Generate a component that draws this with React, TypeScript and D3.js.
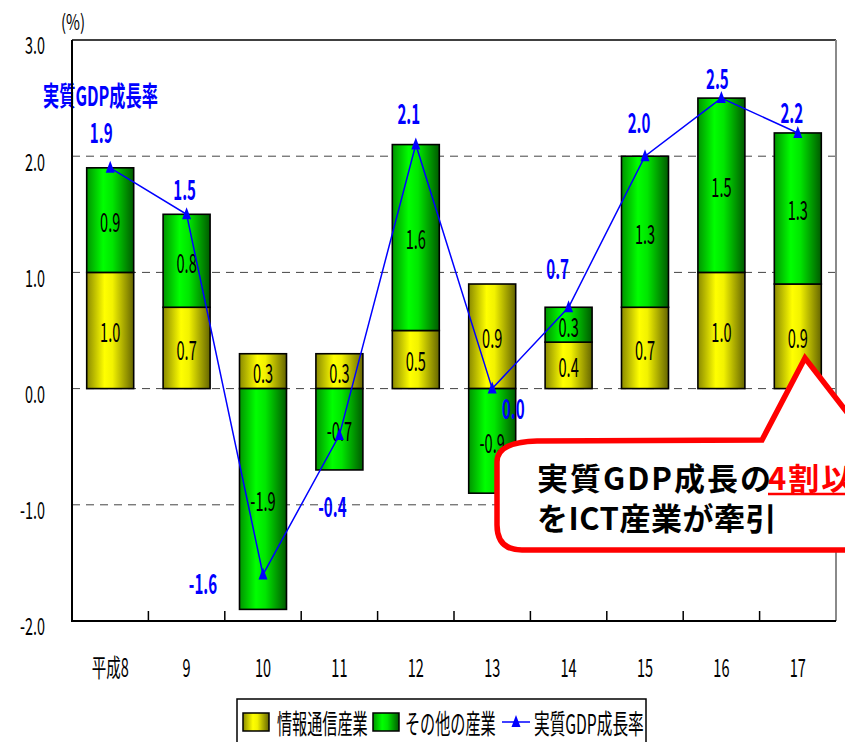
import React from "react";
import * as d3 from "d3";

// Contribution of each sector to real GDP growth (percentage points), fiscal years Heisei 8–17
const categories = ["平成8", "9", "10", "11", "12", "13", "14", "15", "16", "17"];
const ictContribution = [1.0, 0.7, 0.3, 0.3, 0.5, 0.9, 0.4, 0.7, 1.0, 0.9];
const otherContribution = [0.9, 0.8, -1.9, -0.7, 1.6, -0.9, 0.3, 1.3, 1.5, 1.3];
const gdpGrowth = [1.9, 1.5, -1.6, -0.4, 2.1, 0.0, 0.7, 2.0, 2.5, 2.2];
const yTicks = [3.0, 2.0, 1.0, 0.0, -1.0, -2.0];
const gridValues = [2.0, 1.0, 0.0, -1.0];
const seriesNames = ["情報通信産業", "その他の産業", "実質GDP成長率"];

// Hand-placed offsets of the growth-rate labels relative to their points
const gdpLabelOffsets: [number, number][] = [
  [-9, -37], [-2, -26], [-60, 8], [-7, 70], [-7, -32],
  [21, 19], [-11, -40], [-6, -35], [-4, -21], [-6, -22],
];

const W = 845;
const H = 742;
const plot = { left: 72, right: 836, top: 40, bottom: 621 };
const FONT = "'Noto Sans CJK JP', 'Noto Sans', sans-serif";

type CTextProps = {
  x: number;
  y: number;
  size: number;
  sx?: number;
  fill?: string;
  anchor?: "start" | "middle" | "end";
  weight?: number;
  children: React.ReactNode;
};

// Condensed text: horizontal squeeze around the anchor point
function CText({ x, y, size, sx = 0.6, fill = "#000", anchor = "middle", weight = 400, children }: CTextProps) {
  return (
    <text
      transform={`translate(${x},${y}) scale(${sx},1)`}
      textAnchor={anchor}
      dominantBaseline="central"
      fontSize={size}
      fontWeight={weight}
      fill={fill}
      fontFamily={FONT}
    >
      {children}
    </text>
  );
}

const fmt = d3.format(".1f");
const fmtSigned = (v: number) => (v < 0 ? "-" + fmt(-v) : fmt(v));

export default function App() {
  const x = d3
    .scaleBand<string>()
    .domain(categories)
    .range([plot.left, plot.right])
    .paddingInner(0.385)
    .paddingOuter(0.1925);
  const y = d3.scaleLinear().domain([-2, 3]).range([plot.bottom, plot.top]);
  const step = x.step();

  const rows = categories.map((c, i) => ({ cat: c, ict: ictContribution[i], other: otherContribution[i] }));
  const stacked = d3
    .stack<any>()
    .keys(["ict", "other"])
    .offset(d3.stackOffsetDiverging)(rows);

  const cx = (c: string) => (x(c) ?? 0) + x.bandwidth() / 2;

  const linePath = d3
    .line<number>()
    .x((_, i) => cx(categories[i]))
    .y((v) => y(v))(gdpGrowth);

  const triangle = "M0,-7 L4.5,5 L-4.5,5 Z";

  // Speech bubble outline (extends past the right edge of the page)
  const bubble = [
    "M762,440",
    "L805,358",
    "L870,442",
    "L900,442",
    "L900,550",
    "L522,550",
    "Q497,550 497,525",
    "L497,462",
    "Q497,442 537,441",
    "Z",
  ].join(" ");

  return (
    <svg
      width={W}
      height={H}
      viewBox={`0 0 ${W} ${H}`}
      style={{ position: "absolute", left: 0, top: 0, display: "block", background: "#fff" }}
    >
      <defs>
        <linearGradient id="gYellow" x1="0" x2="1" y1="0" y2="0">
          <stop offset="0" stopColor="#8a8a00" />
          <stop offset="0.38" stopColor="#ffff00" />
          <stop offset="0.55" stopColor="#f2f200" />
          <stop offset="1" stopColor="#656500" />
        </linearGradient>
        <linearGradient id="gGreen" x1="0" x2="1" y1="0" y2="0">
          <stop offset="0" stopColor="#009400" />
          <stop offset="0.35" stopColor="#00ff00" />
          <stop offset="0.55" stopColor="#00e600" />
          <stop offset="1" stopColor="#005a00" />
        </linearGradient>
        <clipPath id="pageClip">
          <rect x={0} y={0} width={W} height={H} />
        </clipPath>
      </defs>

      {/* gridlines */}
      {gridValues.map((v) => (
        <line
          key={v}
          x1={plot.left}
          x2={plot.right}
          y1={y(v)}
          y2={y(v)}
          stroke="#444"
          strokeWidth={1}
          strokeDasharray="8 6"
        />
      ))}

      {/* plot frame: top and right */}
      <line x1={plot.left} x2={plot.right} y1={plot.top} y2={plot.top} stroke="#000" strokeWidth={1.5} />
      <line x1={plot.right} x2={plot.right} y1={plot.top} y2={plot.bottom} stroke="#8a8a8a" strokeWidth={2} />

      {/* stacked bars */}
      {stacked.map((layer) => (
        <g key={layer.key}>
          {layer.map((seg, i) => {
            const v = layer.key === "ict" ? ictContribution[i] : otherContribution[i];
            const y0 = y(Math.max(seg[0], seg[1]));
            const y1 = y(Math.min(seg[0], seg[1]));
            const bx = x(categories[i]) ?? 0;
            return (
              <g key={i}>
                <rect
                  x={bx}
                  y={y0}
                  width={x.bandwidth()}
                  height={y1 - y0}
                  fill={layer.key === "ict" ? "url(#gYellow)" : "url(#gGreen)"}
                  stroke="#000"
                  strokeWidth={1.6}
                />
                <CText x={bx + x.bandwidth() / 2} y={(y0 + y1) / 2} size={27} sx={0.54}>
                  {fmtSigned(v)}
                </CText>
              </g>
            );
          })}
        </g>
      ))}

      {/* real GDP growth line */}
      <path d={linePath ?? ""} fill="none" stroke="#0000ff" strokeWidth={1.5} />
      {gdpGrowth.map((v, i) => (
        <path key={i} d={triangle} transform={`translate(${cx(categories[i])},${y(v)})`} fill="#0000ff" />
      ))}
      {gdpGrowth.map((v, i) => (
        <CText
          key={i}
          x={cx(categories[i]) + gdpLabelOffsets[i][0]}
          y={y(v) + gdpLabelOffsets[i][1]}
          size={27}
          sx={0.56}
          weight={700}
          fill="#0000ff"
        >
          {fmtSigned(v)}
        </CText>
      ))}
      <CText x={43} y={94} size={27} sx={0.6} weight={700} fill="#0000ff" anchor="start">
        {seriesNames[2]}
      </CText>

      {/* axes */}
      <line x1={plot.left} x2={plot.left} y1={plot.top} y2={plot.bottom + 1} stroke="#000" strokeWidth={2} />
      <line x1={plot.left - 1} x2={plot.right} y1={plot.bottom} y2={plot.bottom} stroke="#000" strokeWidth={2} />
      {categories.slice(1).map((c) => (
        <line
          key={c}
          x1={(x(c) ?? 0) - (step - x.bandwidth()) / 2}
          x2={(x(c) ?? 0) - (step - x.bandwidth()) / 2}
          y1={plot.bottom}
          y2={plot.bottom - 10}
          stroke="#000"
          strokeWidth={1.5}
        />
      ))}
      {yTicks.map((v) => (
        <CText key={v} x={45} y={y(v) + 4} size={24} sx={0.6} anchor="end">
          {fmtSigned(v)}
        </CText>
      ))}
      {categories.map((c) => (
        <CText key={c} x={cx(c)} y={666} size={25} sx={0.58}>
          {c}
        </CText>
      ))}
      <CText x={73} y={21} size={21} sx={0.72}>
        (%)
      </CText>

      {/* callout */}
      <g clipPath="url(#pageClip)">
        <path d={bubble} fill="#fff" stroke="#ff0000" strokeWidth={5.5} strokeLinejoin="miter" />
        <text x={537} y={490} fontSize={31} fontWeight={700} fontFamily={FONT} fill="#000" letterSpacing={2}>
          実質GDP成長の
        </text>
        <text x={768} y={490} fontSize={31} fontWeight={700} fontFamily={FONT} fill="#ff0000" letterSpacing={2}>
          4割以上
        </text>
        <line x1={768} x2={900} y1={494} y2={494} stroke="#ff0000" strokeWidth={2.5} />
        <text x={537} y={530} fontSize={31} fontWeight={700} fontFamily={FONT} fill="#000" letterSpacing={0.5}>
          をICT産業が牽引
        </text>
      </g>

      {/* legend */}
      <rect x={237} y={699} width={409} height={60} fill="#fff" stroke="#000" strokeWidth={1.5} />
      <rect x={243} y={713} width={26} height={18} fill="url(#gYellow)" stroke="#000" strokeWidth={1.5} />
      <CText x={277} y={722} size={27} sx={0.56} anchor="start">
        {seriesNames[0]}
      </CText>
      <rect x={373} y={713} width={26} height={18} fill="url(#gGreen)" stroke="#000" strokeWidth={1.5} />
      <CText x={405} y={722} size={27} sx={0.56} anchor="start">
        {seriesNames[1]}
      </CText>
      <line x1={502} x2={530} y1={722} y2={722} stroke="#0000ff" strokeWidth={1.5} />
      <path d={triangle} transform="translate(516,722)" fill="#0000ff" />
      <CText x={534} y={722} size={27} sx={0.58} anchor="start">
        {seriesNames[2]}
      </CText>
    </svg>
  );
}
